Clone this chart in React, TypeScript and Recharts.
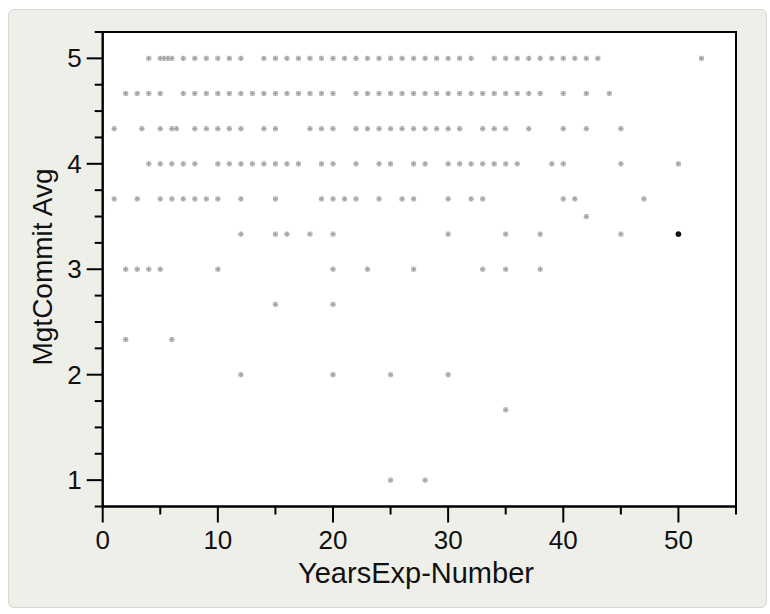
import React from 'react'
import {
  ScatterChart,
  Scatter,
  XAxis,
  YAxis,
  CartesianGrid,
  ReferenceArea
} from 'recharts'

// MgtCommit Avg levels, and the YearsExp-Number values seen at each level
const row500 = [4, 5, 5.33, 5.67, 6, 7, 8, 9, 10, 11, 12, 14, 15, 16, 17, 18, 19, 20, 21, 22, 23, 24, 25, 26, 27, 28, 29, 30, 31, 32, 34, 35, 36, 37, 38, 39, 40, 41, 42, 43, 52]
const row467 = [2, 3, 4, 5, 7, 8, 9, 10, 11, 12, 13, 14, 15, 16, 17, 18, 19, 20, 22, 23, 24, 25, 26, 27, 28, 29, 30, 31, 32, 33, 34, 35, 36, 37, 38, 40, 42, 44]
const row433 = [1, 3.4, 5, 6, 6.4, 8, 9, 10, 11, 12, 14, 15, 18, 19, 20, 22, 23, 24, 25, 26, 27, 28, 29, 30, 31, 33, 34, 35, 37, 40, 42, 45]
const row400 = [4, 5, 6, 7, 8, 10, 11, 12, 13, 14, 15, 16, 17, 19, 20, 22, 24, 25, 27, 28, 30, 31, 32, 33, 34, 35, 36, 39, 40, 45, 50]
const row367 = [1, 3, 5, 6, 7, 8, 9, 10, 12, 15, 19, 20, 21, 22, 24, 26, 27, 30, 32, 33, 40, 41, 47]
const row350 = [42]
const row333 = [12, 15, 16, 18, 20, 30, 35, 38, 45]
const row300 = [2, 3, 4, 5, 10, 20, 23, 27, 33, 35, 38]
const row267 = [15, 20]
const row233 = [2, 6]
const row200 = [12, 20, 25, 30]
const row167 = [35]
const row100 = [25, 28]

// overlapping points drawn darker
const darkX = [50]
const darkY = [3.333]

const rows: [number, number[]][] = [
  [5, row500],
  [4.667, row467],
  [4.333, row433],
  [4, row400],
  [3.667, row367],
  [3.5, row350],
  [3.333, row333],
  [3, row300],
  [2.667, row267],
  [2.333, row233],
  [2, row200],
  [1.667, row167],
  [1, row100]
]

const xTicks = [0, 5, 10, 15, 20, 25, 30, 35, 40, 45, 50, 55]
const yTicks = [0.75, 1, 1.25, 1.5, 1.75, 2, 2.25, 2.5, 2.75, 3, 3.25, 3.5, 3.75, 4, 4.25, 4.5, 4.75, 5, 5.25]

const grayPoints = rows.flatMap(([y, xs]) => xs.map((x) => ({ x, y })))
const darkPoints = darkX.map((x, i) => ({ x, y: darkY[i] }))

const font = '"Liberation Sans", Arial, Helvetica, sans-serif'

const XTick = (props: any) => {
  const { x, y, payload } = props
  const v = payload.value
  const major = v % 10 === 0
  return (
    <g>
      <line x1={x} x2={x} y1={y} y2={y + (major ? 16 : 8)} stroke='#000' strokeWidth={2} />
      {major && (
        <text x={x} y={y + 42} textAnchor='middle' fontSize={26} fontFamily={font} fill='#111'>
          {v}
        </text>
      )}
    </g>
  )
}

const YTick = (props: any) => {
  const { x, y, payload } = props
  const v = payload.value
  const major = Number.isInteger(v)
  return (
    <g>
      <line x1={x - (major ? 16 : 8)} x2={x} y1={y} y2={y} stroke='#000' strokeWidth={2} />
      {major && (
        <text x={x - 21} y={y + 9} textAnchor='end' fontSize={26} fontFamily={font} fill='#111'>
          {v}
        </text>
      )}
    </g>
  )
}

// small soft gray plus, like the original markers
const GrayMark = (props: any) => {
  const { cx, cy } = props
  return (
    <g>
      <rect x={cx - 2.5} y={cy - 2.5} width={5} height={5} fill='#d2d2d2' />
      <rect x={cx - 2.5} y={cy - 0.75} width={5} height={1.5} fill='#a4a4a4' />
      <rect x={cx - 0.75} y={cy - 2.5} width={1.5} height={5} fill='#a4a4a4' />
    </g>
  )
}

const DarkMark = (props: any) => {
  const { cx, cy } = props
  return <circle cx={cx} cy={cy} r={2.8} fill='#111' />
}

const App = () => {
  return (
    <div style={{ position: 'absolute', left: 0, top: 0, width: 770, height: 614, background: '#fff' }}>
      <div
        style={{
          position: 'absolute',
          left: 8,
          top: 9,
          width: 757,
          height: 597,
          background: '#efefea',
          border: '1px solid #d6d6d2',
          borderRadius: 6
        }}
      />
      <div style={{ position: 'absolute', left: 0, top: 0 }}>
        <ScatterChart width={770} height={614} margin={{ top: 32, right: 34, left: 0, bottom: 0 }}>
          <CartesianGrid horizontal={false} vertical={false} fill='#fff' />
          <XAxis
            type='number'
            dataKey='x'
            domain={[0, 55]}
            ticks={xTicks}
            interval={0}
            height={107.5}
            tickSize={0}
            tickMargin={0}
            tickLine={false}
            axisLine={{ stroke: '#000', strokeWidth: 2 }}
            tick={<XTick />}
            label={{
              content: () => (
                <text x={416} y={583} textAnchor='middle' fontSize={29} fontFamily={font} fill='#111'>
                  YearsExp-Number
                </text>
              )
            }}
          />
          <YAxis
            type='number'
            dataKey='y'
            domain={[0.75, 5.25]}
            ticks={yTicks}
            interval={0}
            width={102.7}
            tickSize={0}
            tickMargin={0}
            tickLine={false}
            axisLine={{ stroke: '#000', strokeWidth: 2 }}
            tick={<YTick />}
            label={{
              content: () => (
                <text
                  x={52}
                  y={267}
                  transform='rotate(-90 52 267)'
                  textAnchor='middle'
                  fontSize={28}
                  fontFamily={font}
                  fill='#111'
                >
                  MgtCommit Avg
                </text>
              )
            }}
          />
          <ReferenceArea x1={0} x2={55} y1={0.75} y2={5.25} fill='none' stroke='#000' strokeWidth={2} />
          <Scatter data={grayPoints} shape={<GrayMark />} isAnimationActive={false} />
          <Scatter data={darkPoints} shape={<DarkMark />} isAnimationActive={false} />
        </ScatterChart>
      </div>
    </div>
  )
}

export default App
